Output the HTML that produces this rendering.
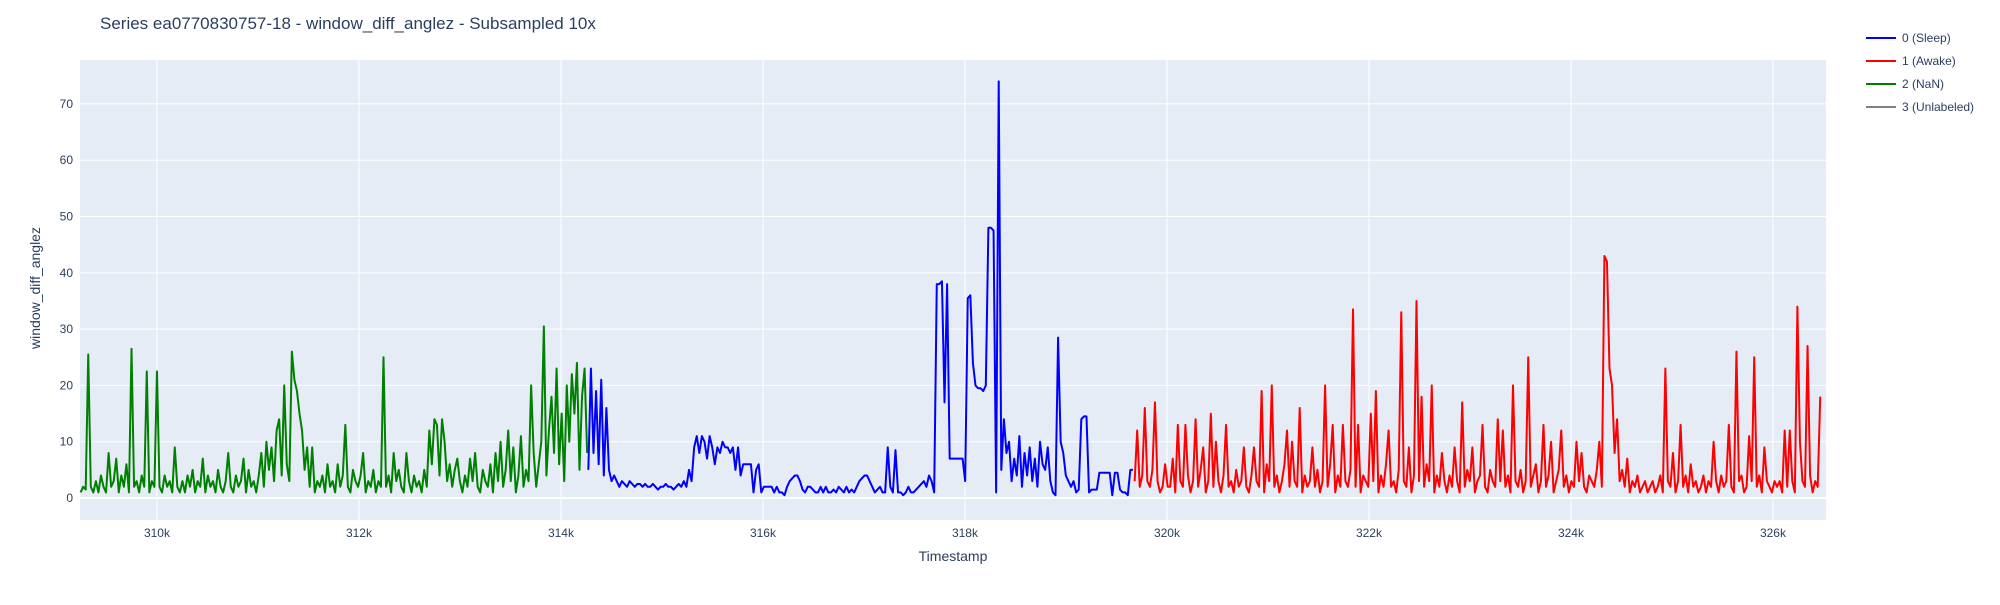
<!DOCTYPE html>
<html><head><meta charset="utf-8"><style>
body{margin:0;background:#fff;}
svg text{font-family:"Liberation Sans",sans-serif;}
</style></head><body>
<svg id="chart" width="2000" height="600" xmlns="http://www.w3.org/2000/svg">
<rect x="0" y="0" width="2000" height="600" fill="#fff"/>
<rect x="80" y="60" width="1746" height="460" fill="#E5ECF6"/>
<g id="grid"></g><g id="series"></g><g id="ticks"></g>
<text x="100" y="29" font-size="17" fill="#2a3f5f">Series ea0770830757-18 - window_diff_anglez - Subsampled 10x</text>
<text x="953" y="561" font-size="14" fill="#2a3f5f" text-anchor="middle">Timestamp</text>
<text x="0" y="0" font-size="14" fill="#2a3f5f" text-anchor="middle" transform="translate(40,288) rotate(-90)">window_diff_anglez</text>
<g id="legend"></g>
</svg>
<script>
const xTicks=[310000,312000,314000,316000,318000,320000,322000,324000,326000];
const xTickLabels=["310k","312k","314k","316k","318k","320k","322k","324k","326k"];
const yTicks=[0,10,20,30,40,50,60,70];
const seriesNames=["0 (Sleep)","1 (Awake)","2 (NaN)","3 (Unlabeled)"];
const seriesColors=["#0000ff","#ff0000","#008000","#808080"];
const greenStartEnd=[309244,314259];
const blueStartEnd=[314271,319663];
const redStartEnd=[319680,326468];
const greenValues=[1,2,1.5,25.5,2,1,3,1,4,2,1,8,2,3,7,1,4,2,6,1,26.5,2,3,1,4,2,22.5,1,3,2,22.5,2,1,4,2,3,1,9,2,1,3,1,4,2,5,1,3,2,7,1,4,2,3,1,5,2,1,3,8,2,1,4,2,3,7,1,5,2,3,1,4,8,2,10,5,9,3,12,14,4,20,6,3,26,21,19,15,12,5,9,2,9,1,3,2,4,1,6,2,3,1,6,2,4,13,2,1,5,3,2,4,8,1,3,2,5,1,3,2,25,2,4,1,8,3,5,2,1,8,3,1,4,2,3,1,5,2,12,6,14,13,4,14,10,3,6,2,5,7,3,1,4,2,7,3,8,2,1,5,3,2,6,1,8,3,10,2,5,12,3,9,1,4,11,2,5,3,20,8,2,6,10,30.5,4,12,18,8,23,6,15,3,20,10,22,15,24,5,18,23,8];
const blueValues=[5,23,8,19,6,21,4,16,5,3,4,3,2,3,2.5,2,3,2.5,2,2.5,2.5,2,2.5,2,2,2.5,2,1.5,2,2,2.5,2,2,1.5,2,2.5,2,3,2,5,3,9,11,8,11,10,7,11,9,6,9,8,10,9,9,8,9,5,9,4,6,6,6,6,1,5,6,1,2,2,2,2,1,2,1,1,0.5,2,3,3.5,4,4,3,1.5,1,2,2,1.5,1,1,2,1,2,1,1,1.5,1,2,1.5,1,2,1,1.5,1,2,3,3.5,4,4,3,2,1,1.5,2,1,1,9,2,1,8.5,1,1,0.5,1,2,1,1,1.5,2,2.5,3,2,4,3,1,38,38,38.5,17,38,7,7,7,7,7,7,3,35.5,36,24,20,19.5,19.5,19,20,48,48,47.5,1,74,5,14,8,10,3,7,4,11,2,8,4,9,3,7,2,10,6,5,9,3,1,0.5,28.5,10,8,4,3,2,3,1,1.5,14,14.5,14.5,1,1.5,1.5,1.5,4.5,4.5,4.5,4.5,4.5,0.5,4.5,4.5,1.5,1,1,0.5,5,5];
const redValues=[3,12,2,4,16,3,2,5,17,3,1,2,6,2,2,7,1,13,3,2,13,4,1,3,14,2,5,9,1,3,15,2,10,3,1,4,13,2,3,1,5,2,3,9,2,1,4,9,3,2,19,1,6,3,20,2,4,1,3,6,12,2,10,3,2,16,1,4,2,3,9,2,5,1,3,20,2,6,13,1,4,2,13,3,2,5,33.5,2,13,1,4,3,2,15,3,19,1,4,2,6,12,2,3,1,5,33,3,2,9,1,4,35,3,18,2,6,3,20,1,4,2,8,3,1,4,2,9,3,1,17,2,5,3,9,1,3,4,13,2,1,5,3,2,14,3,12,2,4,1,20,3,2,5,1,3,25,2,4,6,1,3,13,2,4,10,1,3,5,12,2,4,1,3,2,10,3,8,2,1,4,3,2,5,10,2,43,42,23,20,8,14,3,5,2,7,1,3,2,4,1,2,3,1,2,3,1,2,4,1,23,3,2,8,1,3,13,2,4,1,6,2,3,1,2,4,1,3,2,10,3,1,4,2,3,13,2,1,26,3,4,1,2,11,3,25,2,4,1,9,3,2,1,3,2,3,1,12,2,12,3,1,34,10,3,2,27,4,1,3,2,18];

const X0=80,X1=1826,Y0=60,Y1=520;
const xMin=309238,xMax=326525,yMin=-3.9,yMax=77.8;
function xs(v){return X0+(v-xMin)/(xMax-xMin)*(X1-X0);}
function ys(v){return Y1-(v-yMin)/(yMax-yMin)*(Y1-Y0);}
const NS="http://www.w3.org/2000/svg";
function mk(tag,attrs,parent){const e=document.createElementNS(NS,tag);for(const k in attrs)e.setAttribute(k,attrs[k]);parent.appendChild(e);return e;}
const grid=document.getElementById('grid'),ticks=document.getElementById('ticks'),ser=document.getElementById('series'),leg=document.getElementById('legend');
xTicks.forEach((t,i)=>{
  const l=mk('line',{x1:xs(t),x2:xs(t),y1:Y0,y2:Y1,stroke:'#fff','stroke-width':1},grid);
  
  
  const tx=mk('text',{x:xs(t),y:537,'font-size':12,fill:'#2a3f5f','text-anchor':'middle'},ticks);
  
  
  tx.textContent=xTickLabels[i];
});
yTicks.forEach(t=>{
  const l=mk('line',{x1:X0,x2:X1,y1:ys(t),y2:ys(t),stroke:'#fff','stroke-width':t===0?2:1},grid);
  
  
  const tx=mk('text',{x:73,y:ys(t)+4,'font-size':12,fill:'#2a3f5f','text-anchor':'end'},ticks);
  
  
  tx.textContent=String(t);
});
function draw(vals,se,color,name){
  const n=vals.length,step=(se[1]-se[0])/(n-1);
  const pts=vals.map((v,i)=>xs(se[0]+i*step).toFixed(2)+','+ys(v).toFixed(2)).join(' ');
  const p=mk('polyline',{points:pts,fill:'none',stroke:color,'stroke-width':2,'stroke-linejoin':'round'},ser);
  
  
}
draw(greenValues,greenStartEnd,seriesColors[2],'series-nan-line');
draw(blueValues,blueStartEnd,seriesColors[0],'series-sleep-line');
draw(redValues,redStartEnd,seriesColors[1],'series-awake-line');
seriesNames.forEach((nm,i)=>{
  const y=38+i*23;
  const g=mk('g',{},leg);
  
  
  mk('line',{x1:1866,x2:1896,y1:y,y2:y,stroke:seriesColors[i],'stroke-width':2},g);
  const t=mk('text',{x:1902,y:y+4,'font-size':12,fill:'#2a3f5f'},g);
  t.textContent=nm;
});
</script>
</body></html>
